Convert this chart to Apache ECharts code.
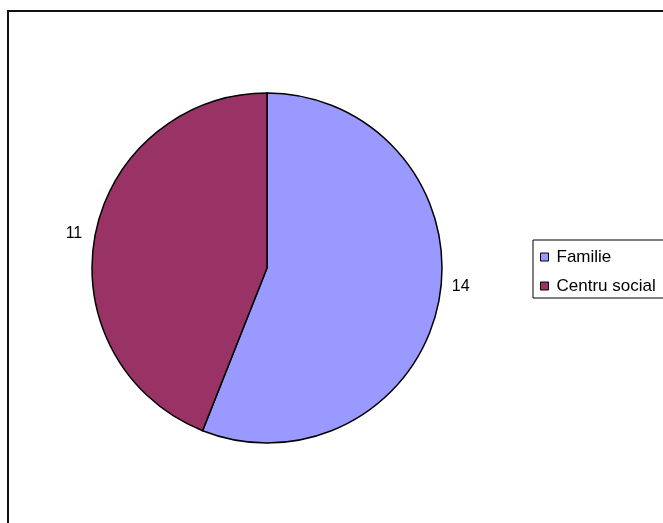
<!DOCTYPE html>
<html>
<head>
<meta charset="utf-8">
<script src="https://cdn.jsdelivr.net/npm/echarts@6/dist/echarts.min.js"></script>
<style>
html,body{margin:0;padding:0;background:#fff;}
#main{width:663px;height:523px;}
</style>
</head>
<body>
<div id="main"></div>
<script>
const categories = ['Familie', 'Centru social'];
const values = [14, 11];
const colors = ['#9999FF', '#993366'];

const chart = echarts.init(document.getElementById('main'), null, {renderer: 'canvas'});
const data = categories.map((c, i) => ({name: c, value: values[i], itemStyle: {color: colors[i]}}));

chart.setOption({
  animation: false,
  backgroundColor: '#fff',
  graphic: [{
    type: 'rect',
    shape: {x: 8, y: 11, width: 800, height: 700},
    style: {fill: 'none', stroke: '#111', lineWidth: 2},
    z: 100
  }],
  legend: {
    orient: 'vertical',
    left: 533,
    top: 240,
    data: categories,
    icon: 'rect',
    itemWidth: 8,
    itemHeight: 8,
    itemGap: 9,
    padding: [7, 40, 2, 7],
    borderColor: '#000',
    borderWidth: 1,
    itemStyle: {borderColor: '#000', borderWidth: 1},
    textStyle: {fontFamily: 'Liberation Sans, Arial, sans-serif', fontSize: 17, color: '#000', lineHeight: 20, padding: [0,0,0,3]}
  },
  series: [{
    type: 'pie',
    center: [267, 268],
    radius: 175,
    startAngle: 90,
    clockwise: true,
    data: data,
    itemStyle: {borderColor: '#000', borderWidth: 1.5},
    label: {
      show: true,
      position: 'outside',
      formatter: '{c}',
      fontFamily: 'Liberation Sans, Arial, sans-serif',
      fontSize: 16,
      color: '#000'
    },
    labelLine: {show: false, length: 8, length2: 0},
    labelLayout: function (p) { return p.dataIndex === 0 ? {dy: -16} : {}; },
    emphasis: {disabled: true}
  }]
});
</script>
</body>
</html>
